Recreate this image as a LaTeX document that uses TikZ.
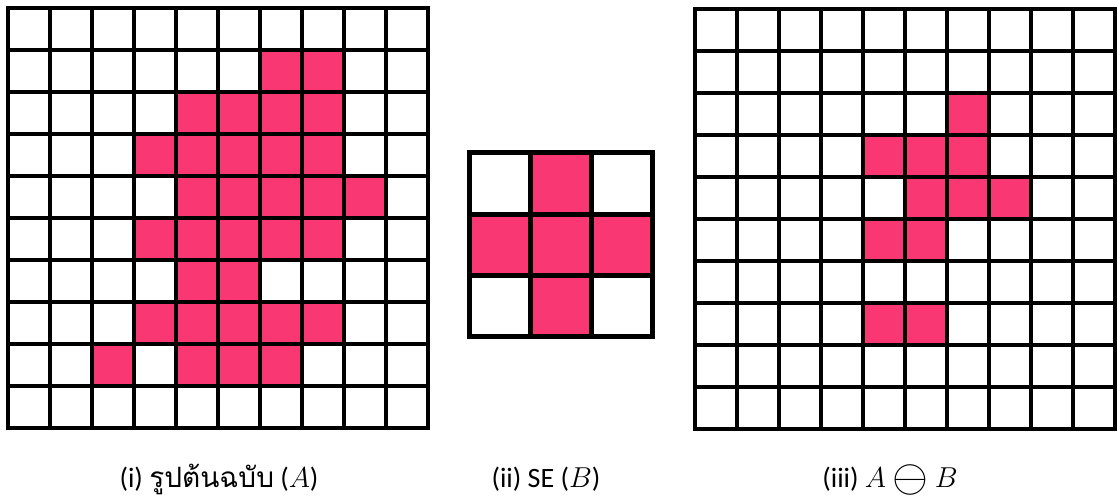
\documentclass[tikz,border=0pt]{standalone}
\usepackage{fontspec}
\setmainfont{Carlito}
\newfontfamily\thaifont[Script=Thai]{Loma}
\usepackage{tikz}
\definecolor{cellpink}{HTML}{F93873}

\begin{document}
\begin{tikzpicture}[x=0.5pt, y=-0.5pt, font=\fontsize{14}{16}\selectfont,
    on/.style={fill=cellpink},
    gridline/.style={draw=black, line width=1.8pt, line cap=rect},
    seline/.style={draw=black, line width=2.5pt, line cap=rect},
    caption/.style={anchor=base, inner sep=0pt}]
  \useasboundingbox (0,0) rectangle (1117,502);

  % (i) original image A, cell 42px
  \foreach \r/\c in {1/6,1/7, 2/4,2/5,2/6,2/7, 3/3,3/4,3/5,3/6,3/7,
                     4/4,4/5,4/6,4/7,4/8, 5/3,5/4,5/5,5/6,5/7, 6/4,6/5,
                     7/3,7/4,7/5,7/6,7/7, 8/2,8/4,8/5,8/6}
    \fill[on] ({8+42*\c},{8+42*\r}) rectangle +(42,42);
  \foreach \i in {0,...,10} {
    \draw[gridline] ({8+42*\i},8) -- ({8+42*\i},428);
    \draw[gridline] (8,{8+42*\i}) -- (428,{8+42*\i});
  }

  % (ii) structuring element B, cell 61px
  \foreach \r/\c in {0/1, 1/0,1/1,1/2, 2/1}
    \fill[on] ({469+61*\c},{153+61*\r}) rectangle +(61,61);
  \foreach \i in {0,...,3} {
    \draw[seline] ({469+61*\i},153) -- ({469+61*\i},336);
    \draw[seline] (469,{153+61*\i}) -- (652,{153+61*\i});
  }

  % (iii) erosion result
  \foreach \r/\c in {2/6, 3/4,3/5,3/6, 4/5,4/6,4/7, 5/4,5/5, 7/4,7/5}
    \fill[on] ({695+42*\c},{9+42*\r}) rectangle +(42,42);
  \foreach \i in {0,...,10} {
    \draw[gridline] ({695+42*\i},9) -- ({695+42*\i},429);
    \draw[gridline] (695,{9+42*\i}) -- (1115,{9+42*\i});
  }

  \node[caption] (capA) at (219,487) {(i) {\thaifont รูปต้นฉบับ} ($A$)};
  \node[caption] (capB) at (546,487) {(ii) SE ($B$)};
  \node[caption] (capC) at (890,487) {(iii) $A \mathbin{\vcenter{\hbox{\scalebox{1.6}{$\ominus$}}}} B$};
\end{tikzpicture}
\end{document}
